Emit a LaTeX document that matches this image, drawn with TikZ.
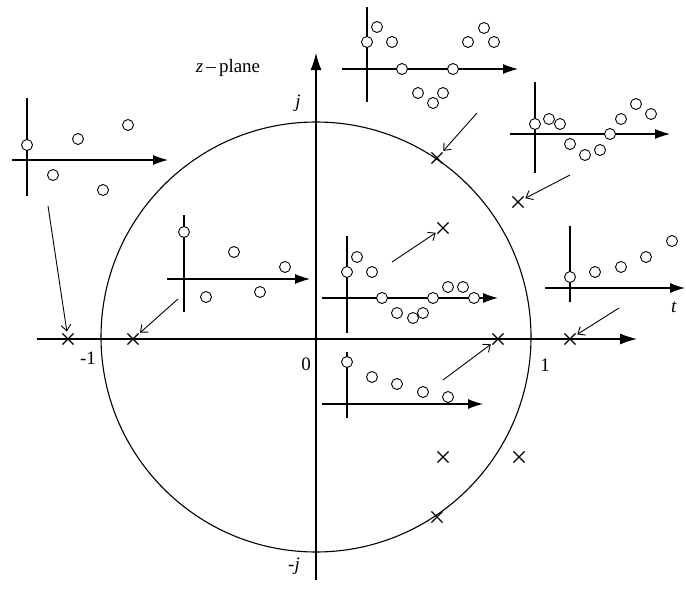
\documentclass[tikz,border=0pt]{standalone}
\usepackage{fontspec}
\setmainfont{Liberation Serif}
\usetikzlibrary{arrows.meta,shapes.misc}

\begin{document}
\begin{tikzpicture}[x=1pt, y=-1pt,
    axis/.style={line width=1.1pt, -{Latex[length=17pt,width=11pt]}},
    taxis/.style={line width=1.1pt, -{Latex[length=15pt,width=10pt]}},
    stem/.style={line width=1.1pt},
    ptr/.style={line width=0.9pt, -{Straight Barb[length=6pt,width=10pt]}, shorten >=2pt},
    dot/.style={circle, draw, line width=0.9pt, fill=white, minimum size=11pt, inner sep=0pt},
    pole/.style={cross out, draw, line width=1.1pt, minimum size=10pt, inner sep=0pt},
    lbl/.style={font=\fontsize{19}{21}\selectfont, inner sep=0pt},
  ]
    \useasboundingbox (0,0) rectangle (686,589);

    % unit circle and axes of the z-plane
    \node[circle, draw, line width=1.1pt, minimum size=430pt, inner sep=0pt] (unit) at (316,337) {};
    \draw[axis] (37,339) -- (637,339);
    \draw[axis] (316,580) -- (316,53);
    \node[lbl] (zpl)  at (228,68)  {\textit{z}\,–\,plane};
    \node[lbl] (im)   at (298,103) {\textit{j}};
    \node[lbl] (mim)  at (294,566) {-\textit{j}};
    \node[lbl] (m1)   at (88,358)  {-1};
    \node[lbl] (zero) at (306,364) {0};
    \node[lbl] (one)  at (545,365) {1};
    \node[lbl] (tt)   at (674,307) {\textit{t}};

    % poles
    \node[pole] (p1)  at (68,339)  {};
    \node[pole] (p2)  at (133,339) {};
    \node[pole] (p3)  at (498,339) {};
    \node[pole] (p4)  at (570,339) {};
    \node[pole] (p5)  at (443,228) {};
    \node[pole] (p6)  at (437,158) {};
    \node[pole] (p7)  at (518,202) {};
    \node[pole] (p8)  at (443,457) {};
    \node[pole] (p9)  at (519,457) {};
    \node[pole] (p10) at (437,517) {};

    % top left: growing oscillation
    \draw[stem] (27,98) -- (27,196);
    \draw[taxis] (12,160) -- (168,160);
    \foreach \x/\y [count=\i] in {27/145, 53/175, 78/139, 103/190, 128/125}
      \node[dot] (a\i) at (\x,\y) {};

    % top middle
    \draw[stem] (367,7) -- (367,102);
    \draw[taxis] (342,69) -- (518,69);
    \foreach \x/\y [count=\i] in {367/42, 377/27, 392/42, 402/69, 418/93, 433/103,
        443/93, 453/69, 468/42, 484/28, 494/42}
      \node[dot] (b\i) at (\x,\y) {};

    % top right
    \draw[stem] (535,82) -- (535,173);
    \draw[taxis] (510,134) -- (670,134);
    \foreach \x/\y [count=\i] in {535/124, 549/119, 560/124, 570/144, 585/155,
        600/150, 610/134, 621/119, 636/104, 651/114}
      \node[dot] (c\i) at (\x,\y) {};

    % inside left: decaying alternation
    \draw[stem] (184,215) -- (184,312);
    \draw[taxis] (167,279) -- (310,279);
    \foreach \x/\y [count=\i] in {184/232, 206/297, 234/252, 260/292, 285/267}
      \node[dot] (d\i) at (\x,\y) {};

    % inside right: decaying oscillation
    \draw[stem] (347,236) -- (347,333);
    \draw[taxis] (322,298) -- (498,298);
    \foreach \x/\y [count=\i] in {347/272, 357/257, 372/272, 382/298, 397/313,
        413/318, 423/313, 433/298, 448/287, 463/287, 474/298}
      \node[dot] (e\i) at (\x,\y) {};

    % outside right: growing exponential
    \draw[stem] (570,226) -- (570,302);
    \draw[taxis] (545,288) -- (685,288);
    \foreach \x/\y [count=\i] in {570/277, 595/272, 621/267, 646/257, 672/241}
      \node[dot] (f\i) at (\x,\y) {};

    % inside lower: decaying exponential
    \draw[stem] (347,352) -- (347,418);
    \draw[taxis] (322,404) -- (483,404);
    \foreach \x/\y [count=\i] in {347/362, 372/377, 397/384, 423/392, 448/397}
      \node[dot] (g\i) at (\x,\y) {};

    % pointers to the poles
    \coordinate (sa) at (48,206);
    \coordinate (sd) at (178,299);
    \coordinate (se) at (392,262);
    \coordinate (sg) at (443,380);
    \coordinate (sb) at (477,113);
    \coordinate (sc) at (570,175);
    \coordinate (sf) at (619,308);
    \draw[ptr] (sa) -- (p1);
    \draw[ptr] (sd) -- (p2);
    \draw[ptr] (se) -- (p5);
    \draw[ptr] (sg) -- (p3);
    \draw[ptr] (sb) -- (p6);
    \draw[ptr] (sc) -- (p7);
    \draw[ptr] (sf) -- (p4);
\end{tikzpicture}
\end{document}
